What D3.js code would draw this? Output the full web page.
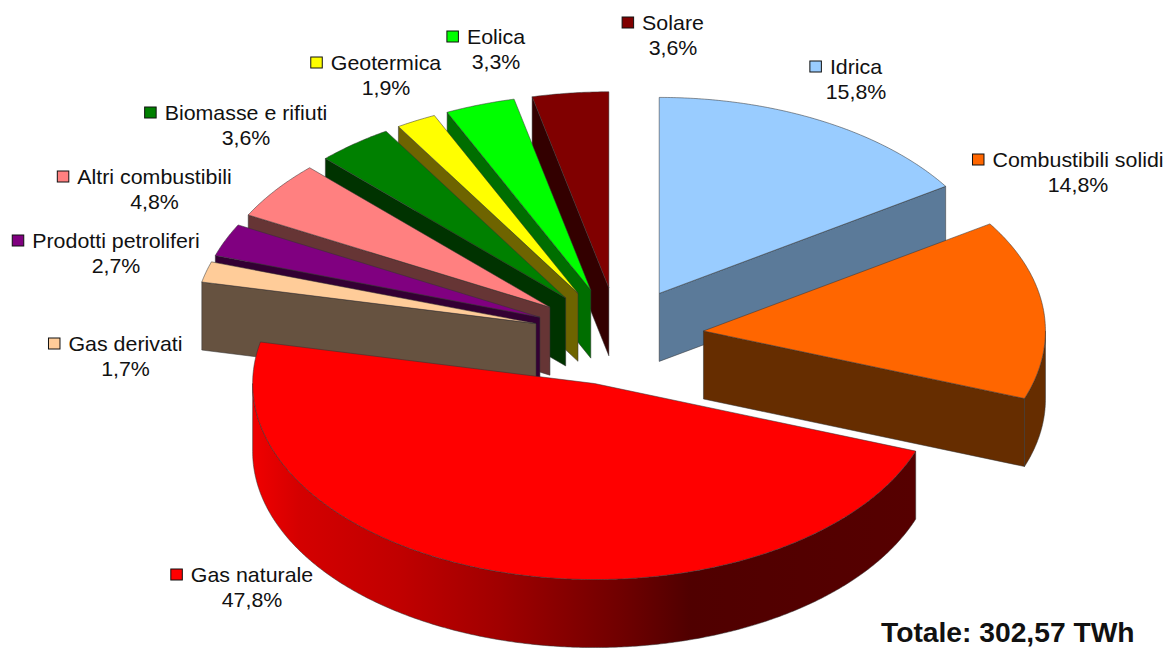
<!DOCTYPE html>
<html>
<head>
<meta charset="utf-8">
<script src="https://cdn.jsdelivr.net/npm/d3@7"></script>
<style>
html,body{margin:0;padding:0;background:#fff;overflow:hidden}
text{font-family:"Liberation Sans",Arial,sans-serif;fill:#111}
</style>
</head>
<body>
<svg id="chart" width="1171" height="648"></svg>
<script>
const categories = ["Idrica","Combustibili solidi","Gas naturale","Gas derivati","Prodotti petroliferi","Altri combustibili","Biomasse e rifiuti","Geotermica","Eolica","Solare"];
const shares = [15.8,14.8,47.8,1.7,2.7,4.8,3.6,1.9,3.3,3.6];
const shareLabels = ["15,8%","14,8%","47,8%","1,7%","2,7%","4,8%","3,6%","1,9%","3,3%","3,6%"];
const topColors = ["#99ccff","#ff6600","#ff0000","#ffcc99","#800080","#ff8080","#008000","#ffff00","#00ff00","#800000"];
const wallColors = ["#5b7a99","#662d00","#800000","#665240","#330033","#663535","#003300","#6e6400","#006e00","#330000"];
const totalLabel = "Totale: 302,57 TWh";

// layout of the labels: text centre and first baseline
const labelX = [856,1078,252,125.5,116,154.5,246,386,496,673];
const labelY = [74,167,582,351,248,184,120,70,44,30];

const W = 1171, H = 648, CX = 618.5, CY = 336.5, RX = 342, RY = 196, DEPTH = 68, EXPLODE = 0.25;
const FONT = 19.8, STRETCH = 1.08, LINE = 25;

const svg = d3.select("#chart");
const x = d3.scaleLinear().domain([-1,1]).range([CX-RX,CX+RX]);
const y = d3.scaleLinear().domain([-1,1]).range([CY+RY,CY-RY]);

const defs = svg.append("defs");
const gradStart = 253, gradEnd = 915;
const grad = defs.append("linearGradient").attr("id","gasWall")
  .attr("gradientUnits","userSpaceOnUse").attr("x1",gradStart).attr("x2",gradEnd).attr("y1",0).attr("y2",0);
[[253,"#f00000"],[300,"#d40000"],[400,"#c00000"],[450,"#b00000"],[500,"#a00000"],[560,"#880000"],[620,"#700000"],[690,"#500000"],[915,"#560000"]]
  .forEach(s=>grad.append("stop").attr("offset",(s[0]-gradStart)/(gradEnd-gradStart)).attr("stop-color",s[1]));

const slices = d3.pie().sort(null).value(d=>d)(shares).map((d,i)=>{
  const mid = (d.startAngle+d.endAngle)/2;
  return {i, a0:d.startAngle, a1:d.endAngle,
          ux:EXPLODE*Math.sin(mid), uy:EXPLODE*Math.cos(mid)};
});
const ptX = (s,a)=>x(s.ux+Math.sin(a));
const ptY = (s,a)=>y(s.uy+Math.cos(a));
const line = d3.line();
const arcPts = (s,a0,a1,dy=0)=>{
  const n = Math.max(2,Math.ceil((a1-a0)*120));
  return d3.range(n+1).map(k=>{const a=a0+(a1-a0)*k/n; return [ptX(s,a),ptY(s,a)+dy];});
};
const EDGE = "rgba(50,50,50,.65)";

slices.slice().sort((p,q)=>y(p.uy)-y(q.uy)).forEach(s=>{
  const g = svg.append("g").attr("class","slice");
  const apex = [x(s.ux),y(s.uy)];
  const wall = wallColors[s.i];
  const visible = s.a1<=Math.PI ? [s.a1] : s.a0>=Math.PI ? [s.a0] : [];
  visible.forEach(a=>{
    const o=[ptX(s,a),ptY(s,a)];
    g.append("path").attr("d",line([apex,o,[o[0],o[1]+DEPTH],[apex[0],apex[1]+DEPTH]])+"Z")
      .attr("fill",wall).attr("stroke",EDGE).attr("stroke-width",.8).attr("stroke-linejoin","round");
  });
  const b0=Math.max(s.a0,Math.PI/2), b1=Math.min(s.a1,Math.PI*1.5);
  if(b1>b0){
    const pts=arcPts(s,b0,b1).concat(arcPts(s,b0,b1,DEPTH).reverse());
    g.append("path").attr("d",line(pts)+"Z")
      .attr("fill",s.i===2?"url(#gasWall)":wall).attr("stroke",EDGE).attr("stroke-width",.8);
  }
  g.append("path").attr("d",line([apex].concat(arcPts(s,s.a0,s.a1)))+"Z")
    .attr("fill",topColors[s.i]).attr("stroke",EDGE).attr("stroke-width",.8).attr("stroke-linejoin","round");
});

const place = (xp,yp,sx)=>`translate(${xp},${yp}) scale(${sx},1)`;
categories.forEach((c,i)=>{
  const g = svg.append("g").attr("class","label");
  const t = g.append("text").attr("transform",place(labelX[i],labelY[i],STRETCH)).attr("text-anchor","middle")
    .attr("font-size",FONT).text(c);
  g.append("text").attr("transform",place(labelX[i],labelY[i]+LINE,STRETCH)).attr("text-anchor","middle")
    .attr("font-size",FONT).text(shareLabels[i]);
  const w = t.node().getComputedTextLength()*STRETCH;
  g.append("rect").attr("x",labelX[i]-w/2-20).attr("y",labelY[i]-13).attr("width",11.5).attr("height",11)
    .attr("fill",topColors[i]).attr("stroke","#111").attr("stroke-width",1);
});

svg.append("text").attr("transform",place(881,642,1.027)).attr("font-size",27.5).attr("font-weight","bold").text(totalLabel);
</script>
</body>
</html>
